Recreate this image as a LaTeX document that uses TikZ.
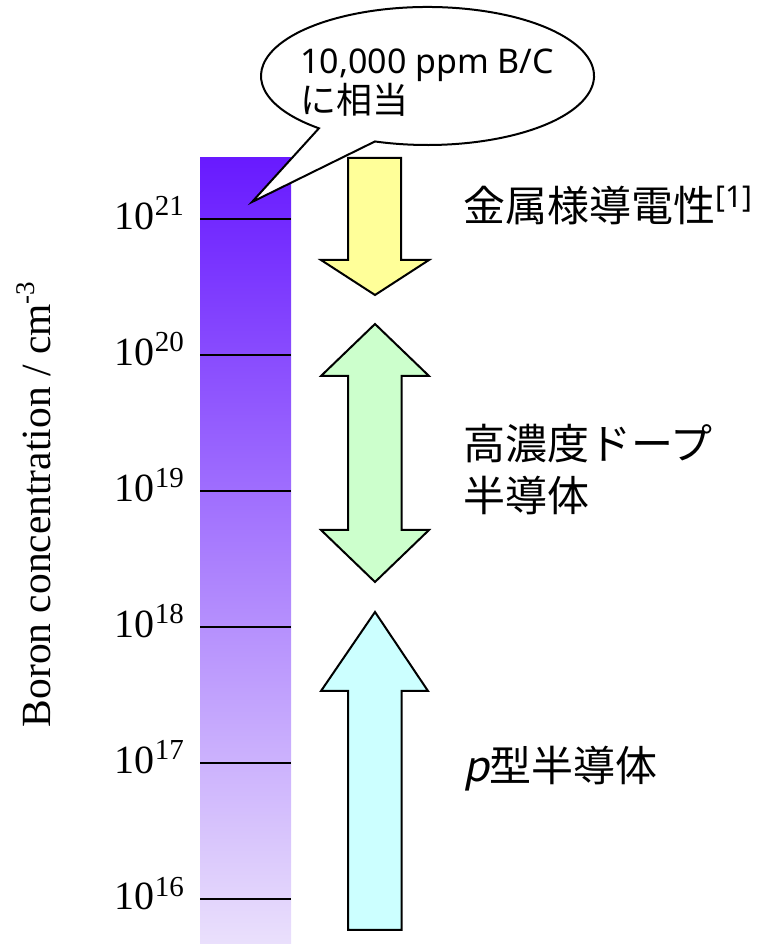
\documentclass[tikz,border=0pt]{standalone}
\usepackage{fontspec}
\setmainfont{Liberation Serif}
\newfontfamily\jpf{Noto Sans CJK JP}
\newfontfamily\latf{Noto Sans}
\newfontfamily\jpit[FakeSlant=0.2]{Noto Sans CJK JP}
\definecolor{barTop}{RGB}{104,26,255}
\definecolor{barBot}{RGB}{234,224,252}
\definecolor{yel}{RGB}{255,255,153}
\definecolor{grn}{RGB}{204,255,204}
\definecolor{cyn}{RGB}{204,255,255}
\tikzset{
  tickline/.style={line width=2.2pt, black},
  ticklab/.style={anchor=base east, inner sep=0pt, font=\fontsize{40}{40}\selectfont},
  arrowshape/.style={draw=black, line width=2pt, line join=miter},
  rlab/.style={anchor=base west, inner sep=0pt, font=\jpf\fontsize{42}{42}\selectfont},
}
\begin{document}
\begin{tikzpicture}[x=1pt,y=1pt]
\useasboundingbox (0,0) rectangle (776,944);
% concentration bar
\shade[top color=barTop, bottom color=barBot] (200,0) rectangle (291,786);
\foreach \Y/\e in {725/21,589/20,453/19,317/18,181/17,45/16} {
  \coordinate (l\e) at (200,\Y);
  \coordinate (r\e) at (291,\Y);
  \draw[tickline] (l\e) -- (r\e);
  \node[ticklab] (t\e) at (184,\Y-11) {10\raisebox{14pt}{\fontsize{29}{29}\selectfont\e}};
}
% axis label
\node[rotate=90, anchor=base, inner sep=0pt, font=\fontsize{41.5}{41.5}\selectfont] (ax) at (50,439.5)
  {Boron concentration / cm\raisebox{16pt}{\fontsize{27}{27}\selectfont -3}};
% arrows
\draw[arrowshape, fill=yel] (348,786) -- (401,786) -- (401,684) -- (429,684) -- (375,649)
  -- (321,684) -- (348,684) -- cycle;
\draw[arrowshape, fill=grn] (375,620) -- (429,568) -- (401.5,568) -- (401.5,414) -- (429,414)
  -- (375,362) -- (321,414) -- (348,414) -- (348,568) -- (321,568) -- cycle;
\draw[arrowshape, fill=cyn] (375,332) -- (428,253) -- (401.5,253) -- (401.5,14) -- (348,14)
  -- (348,253) -- (321,253) -- cycle;
% callout
\coordinate (ctip) at (252,742);
\draw[fill=white, line width=2pt, line join=miter]
  ([shift={(251.6:166.5 and 69)}]427.5,868)
  arc[start angle=251.6, end angle=589.3, x radius=166.5, y radius=69] -- (ctip) -- cycle;
\node[anchor=north west, inner sep=0pt, align=left, font=\fontsize{34}{33}\selectfont] (c1) at (300,895)
  {{\latf 10,000 ppm B/C}\\{\jpf\fontsize{36}{33}\selectfont に相当}};
% right labels
\node[rlab] (m1) at (463,722) {金属様導電性\raisebox{14pt}{\latf\fontsize{30}{30}\selectfont[1]}};
\node[rlab] (h1) at (463,484) {高濃度ドープ};
\node[rlab] (h2) at (463,432) {半導体};
\node[rlab] (p1) at (463,162) {{\jpit p}型半導体};
\end{tikzpicture}
\end{document}
